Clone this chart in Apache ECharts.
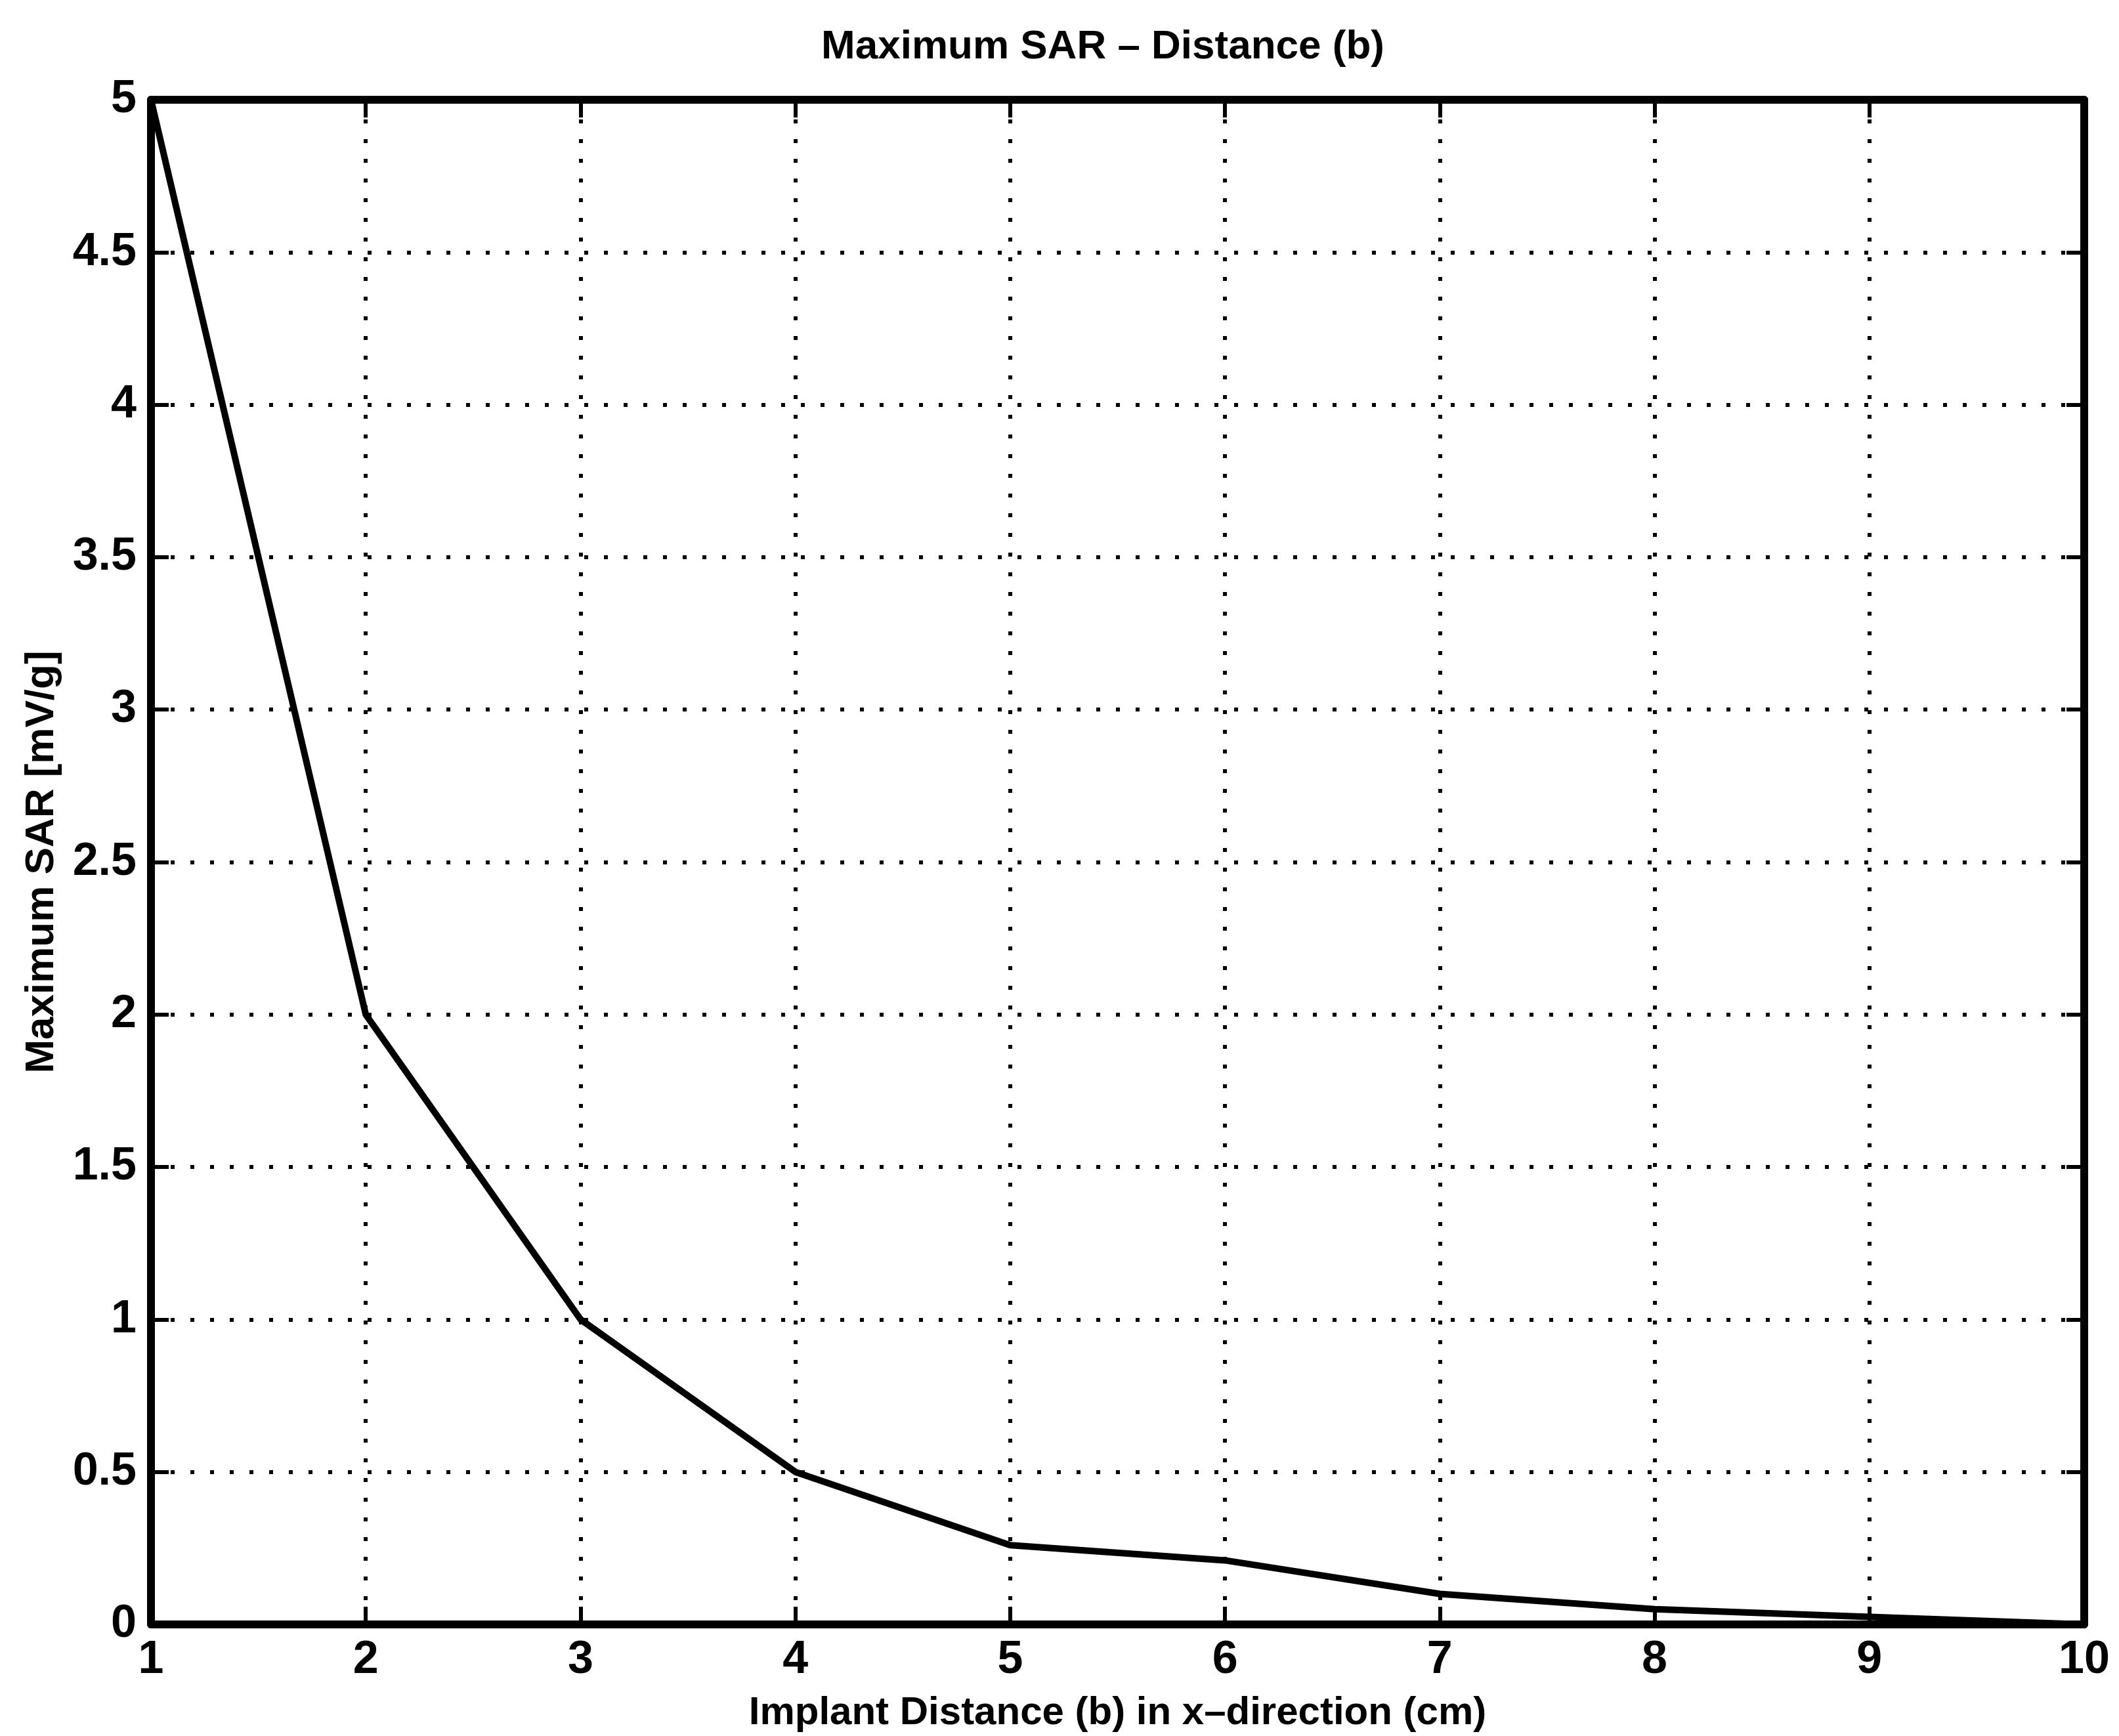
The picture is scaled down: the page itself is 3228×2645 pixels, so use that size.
<!DOCTYPE html>
<html>
<head>
<meta charset="utf-8">
<script src="https://cdn.jsdelivr.net/npm/echarts@6/dist/echarts.min.js"></script>
<style>
  * { margin: 0; padding: 0; }
  html, body { width: 3228px; height: 2645px; background: #fff; }
  #chart { width: 3228px; height: 2645px; }
</style>
</head>
<body>
<div id="chart"></div>
<script>
// implant distance b (cm) and maximum SAR
var distance = [1, 2, 3, 4, 5, 6, 7, 8, 9, 10];
var maxSAR = [5, 2.0, 1.0, 0.5, 0.26, 0.21, 0.1, 0.05, 0.025, 0];

var titleText = 'Maximum SAR \u2013 Distance (b)';
var xName = 'Implant Distance (b) in x\u2013direction (cm)';
var yName = 'Maximum SAR [mV/g]';

var font = 'Liberation Sans';
var ink = '#000';

var chart = echarts.init(document.getElementById('chart'));

function frameAxis(extra) {
  var ax = {
    type: 'value',
    axisLine: { show: true, onZero: false, lineStyle: { color: ink, width: 12 } },
    axisTick: { show: true, inside: true, length: 27, lineStyle: { color: ink, width: 6 } },
    splitLine: { show: false },
    axisLabel: { show: false }
  };
  return Object.assign(ax, extra);
}

var gridDots = { show: true, lineStyle: { color: ink, width: 6, type: [6, 24] } };

chart.setOption({
  animation: false,
  backgroundColor: '#fff',
  title: {
    text: titleText,
    left: 1675,
    top: 36,
    textAlign: 'center',
    textStyle: { fontFamily: font, fontWeight: 'bold', fontSize: 62, color: ink }
  },
  grid: { left: 230, right: 53, top: 152, bottom: 167, containLabel: false },
  xAxis: [
    frameAxis({
      position: 'bottom',
      min: 1, max: 10, interval: 1,
      splitLine: gridDots,
      axisLabel: { show: true, margin: 20, fontFamily: font, fontWeight: 'bold', fontSize: 70, color: ink },
      name: xName,
      nameLocation: 'middle',
      nameGap: 105,
      nameTextStyle: { fontFamily: font, fontWeight: 'bold', fontSize: 60, color: ink }
    }),
    frameAxis({ position: 'top', min: 1, max: 10, interval: 1 })
  ],
  yAxis: [
    frameAxis({
      position: 'left',
      min: 0, max: 5, interval: 0.5,
      splitLine: gridDots,
      axisLabel: { show: true, margin: 22, fontFamily: font, fontWeight: 'bold', fontSize: 70, color: ink },
      name: yName,
      nameLocation: 'middle',
      nameGap: 135,
      nameTextStyle: { fontFamily: font, fontWeight: 'bold', fontSize: 62, color: ink }
    }),
    frameAxis({ position: 'right', min: 0, max: 5, interval: 0.5 })
  ],
  series: [{
    type: 'line',
    data: distance.map(function (d, i) { return [d, maxSAR[i]]; }),
    showSymbol: false,
    symbol: 'none',
    lineStyle: { color: ink, width: 10, join: 'round' },
    z: 5
  }]
});
</script>
</body>
</html>
